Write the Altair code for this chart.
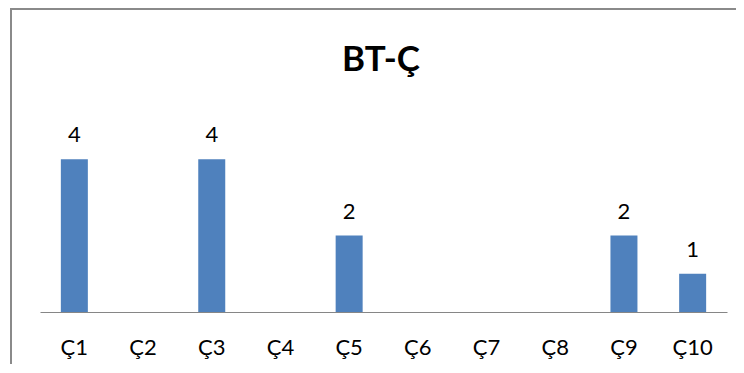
import altair as alt
import pandas as pd

categories = ["Ç1", "Ç2", "Ç3", "Ç4", "Ç5", "Ç6", "Ç7", "Ç8", "Ç9", "Ç10"]
values = [4, 0, 4, 0, 2, 0, 0, 0, 2, 1]
title_text = "BT-Ç"

df = pd.DataFrame({"cat": categories, "v": values})
title_df = pd.DataFrame({"t": [title_text]})

FONT = "Lato"

x_enc = alt.X(
    "cat:N",
    sort=categories,
    title=None,
    scale=alt.Scale(paddingInner=0.607, paddingOuter=0.3035),
    axis=alt.Axis(
        labelAngle=0,
        labelFont=FONT,
        labelFontSize=22,
        labelColor="#000000",
        labelBaseline="alphabetic",
        labelPadding=42,
        ticks=False,
        tickSize=0,
        domainColor="#868686",
        domainWidth=1,
        grid=False,
    ),
)
y_enc = alt.Y(
    "v:Q",
    scale=alt.Scale(domain=[0, 5], nice=False),
    axis=None,
)

bars = alt.Chart(df).mark_bar(color="#4F81BD").encode(x=x_enc, y=y_enc)

labels = (
    alt.Chart(df)
    .transform_filter("datum.v > 0")
    .mark_text(font=FONT, fontSize=22, color="#000000", baseline="alphabetic", dy=-17)
    .encode(x=alt.X("cat:N", sort=categories), y=alt.Y("v:Q"), text=alt.Text("v:Q"))
)

title_mark = (
    alt.Chart(title_df)
    .mark_text(font=FONT, fontSize=35, fontWeight="bold", color="#000000",
               baseline="alphabetic", align="center")
    .encode(x=alt.value(341), y=alt.value(-50), text="t:N")
)

border = (
    alt.Chart(title_df)
    .mark_rect(fill="transparent", stroke="#8a8a8a", strokeWidth=2)
    .encode(
        x=alt.value(-29),
        x2=alt.value(760),
        y=alt.value(-112),
        y2=alt.value(400),
    )
)

chart = (
    alt.layer(border, bars, labels, title_mark)
    .properties(
        width=687,
        height=191,
        background="white",
        autosize=alt.AutoSizeParams(type="none"),
        padding={"left": 32, "top": 113, "right": 9, "bottom": 52},
    )
    .configure_view(strokeWidth=0, stroke="transparent")
)

chart.save("out.html", embed_options={"renderer": "svg", "actions": False})
